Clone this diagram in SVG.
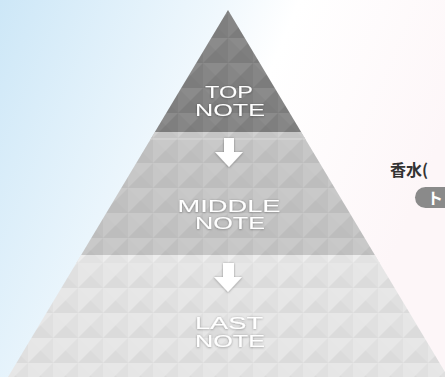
<svg xmlns="http://www.w3.org/2000/svg" width="445" height="377" viewBox="0 0 445 377">
<defs>
<linearGradient id="bg" x1="0" y1="0" x2="1" y2="0.35">
<stop offset="0" stop-color="#cde7f7"/>
<stop offset="0.45" stop-color="#f0f8fd"/>
<stop offset="0.6" stop-color="#ffffff"/>
<stop offset="1" stop-color="#fdf6f8"/>
</linearGradient>
<pattern id="studs" width="25" height="25" patternUnits="userSpaceOnUse" x="3" y="13">
<polygon points="0,0 25,0 12.5,12.5" fill="#fff" opacity="0.07"/>
<polygon points="0,0 12.5,12.5 0,25" fill="#fff" opacity="0.03"/>
<polygon points="25,0 25,25 12.5,12.5" fill="#000" opacity="0.025"/>
<polygon points="0,25 12.5,12.5 25,25" fill="#000" opacity="0.045"/>
</pattern>
<filter id="sh" x="-20%" y="-30%" width="140%" height="160%">
<feDropShadow dx="0" dy="0.5" stdDeviation="1.2" flood-color="#000" flood-opacity="0.4"/>
</filter>
<clipPath id="pyr"><polygon points="228,10 448,377 8,377"/></clipPath>
</defs>
<style>
.lbl{font-family:"Liberation Sans",Arial,sans-serif;font-size:16px;fill:#fff;text-anchor:middle;filter:url(#sh)}
.arrow{fill:#fff;filter:url(#sh)}
.jp{font-family:"Noto Sans CJK JP","Noto Sans",sans-serif;font-weight:bold;font-size:16px;fill:#333}
</style>
<rect width="445" height="377" fill="url(#bg)"/>
<g clip-path="url(#pyr)">
<g id="top-note">
<rect x="0" y="10" width="445" height="122" fill="#828282"/>
<rect x="0" y="10" width="445" height="122" fill="url(#studs)"/>
<text class="lbl"><tspan x="229" y="98" textLength="48" lengthAdjust="spacingAndGlyphs">TOP</tspan><tspan x="230" y="116" textLength="70" lengthAdjust="spacingAndGlyphs">NOTE</tspan></text>
</g>
<g id="middle-note">
<rect x="0" y="132" width="445" height="123" fill="#c5c5c5"/>
<rect x="0" y="132" width="445" height="8" fill="#cecece"/>
<rect x="0" y="132" width="445" height="123" fill="url(#studs)"/>
<text class="lbl"><tspan x="229" y="212" textLength="103" lengthAdjust="spacingAndGlyphs">MIDDLE</tspan><tspan x="230" y="229" textLength="70" lengthAdjust="spacingAndGlyphs">NOTE</tspan></text>
</g>
<g id="last-note">
<rect x="0" y="255" width="445" height="122" fill="#e5e5e5"/>
<rect x="0" y="255" width="445" height="8" fill="#ececec"/>
<rect x="0" y="255" width="445" height="122" fill="url(#studs)"/>
<text class="lbl"><tspan x="229" y="329" textLength="68" lengthAdjust="spacingAndGlyphs">LAST</tspan><tspan x="230" y="347" textLength="70" lengthAdjust="spacingAndGlyphs">NOTE</tspan></text>
</g>
</g>
<g id="connectors">
<polygon class="arrow" points="224,138 234,138 234,152 243,152 229,167 215,152 224,152"/>
<polygon class="arrow" points="223,263 234,263 234,277 242,277 228,292 214,277 223,277"/>
</g>
<g id="side-label">
<text class="jp" x="390" y="176">香水(</text>
<rect x="415" y="187" width="60" height="21" rx="10.5" fill="#8a8a8a"/>
<text x="427" y="204" font-family="Noto Sans CJK JP,sans-serif" font-size="16" font-weight="bold" fill="#fff">ト</text>
</g>
</svg>
